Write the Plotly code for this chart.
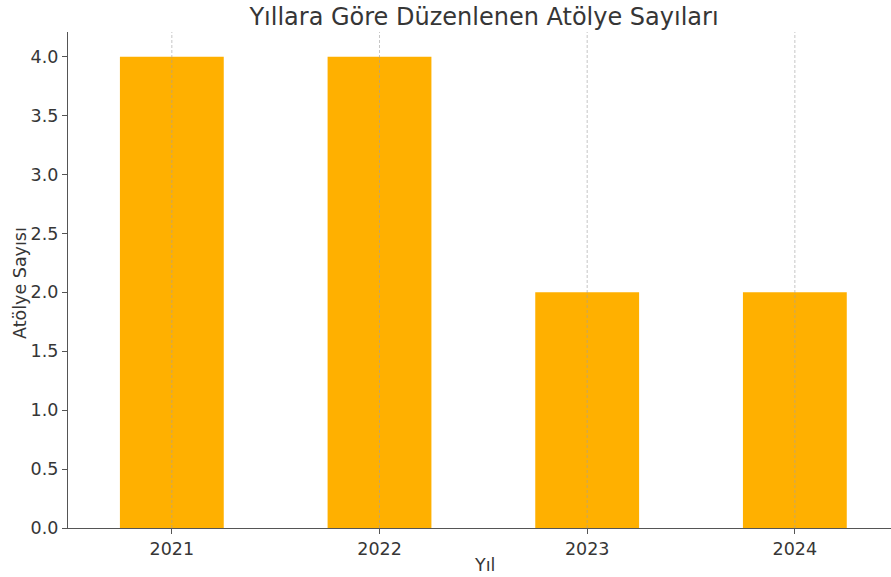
import plotly.graph_objects as go

years = ["2021", "2022", "2023", "2024"]
counts = [4, 4, 2, 2]
y_ticks = [0.0, 0.5, 1.0, 1.5, 2.0, 2.5, 3.0, 3.5, 4.0]

font_family = "DejaVu Sans"
text_color = "#363636"
W, H = 891, 577
L, R, T, B = 68, 0, 32, 49

fig = go.Figure()
fig.add_trace(go.Bar(
    x=years, y=counts, width=0.5,
    marker=dict(color="#FFB000", line=dict(width=0)),
))

# vertical dashed grid lines drawn over the bars (category index positions)
for i, _yr in enumerate(years):
    fig.add_shape(type="line", xref="x", yref="paper", x0=i, x1=i, y0=0, y1=1,
                  line=dict(color="rgba(160,160,160,0.6)", width=1, dash="3px,2px"),
                  layer="above")

fig.update_layout(
    width=W, height=H,
    margin=dict(l=L, r=R, t=T, b=B, autoexpand=False),
    paper_bgcolor="white", plot_bgcolor="white",
    font=dict(family=font_family, color=text_color, size=17.5),
    title=dict(text="Yıllara Göre Düzenlenen Atölye Sayıları", x=484/W, xanchor="center",
               y=1 - 17/H, yanchor="middle", font=dict(size=24, color=text_color)),
    showlegend=False,
    annotations=[
        dict(text="Yıl", xref="paper", yref="paper", x=(484 - L)/(W - L - R), y=-(565 - (H - B))/(H - T - B),
             xanchor="center", yanchor="middle", showarrow=False, font=dict(size=17.5, color=text_color)),
        dict(text="Atölye Sayısı", xref="paper", yref="paper", x=-(L - 20)/(W - L - R), y=0.5 - 3/(H - T - B),
             xanchor="center", yanchor="middle", textangle=-90, showarrow=False,
             font=dict(size=17.5, color=text_color)),
    ],
)
fig.update_xaxes(
    type="category", range=[-0.5, 3.463], automargin=False,
    showgrid=False, showline=True, linecolor="#555", linewidth=1.2,
    ticks="outside", ticklen=5, tickcolor="#555",
    tickfont=dict(size=17.5, color=text_color),
    zeroline=False,
)
fig.update_yaxes(
    range=[0, 4.21], tickvals=y_ticks, ticktext=[f"{v:.1f}" for v in y_ticks], automargin=False,
    showgrid=False, showline=True, linecolor="#555", linewidth=1.2,
    ticks="outside", ticklen=5, tickcolor="#555",
    tickfont=dict(size=17.5, color=text_color),
    zeroline=False,
)

fig.write_html("out.html", config={"displayModeBar": False},
               post_script="document.body.style.margin='0';document.body.style.overflow='hidden';")
